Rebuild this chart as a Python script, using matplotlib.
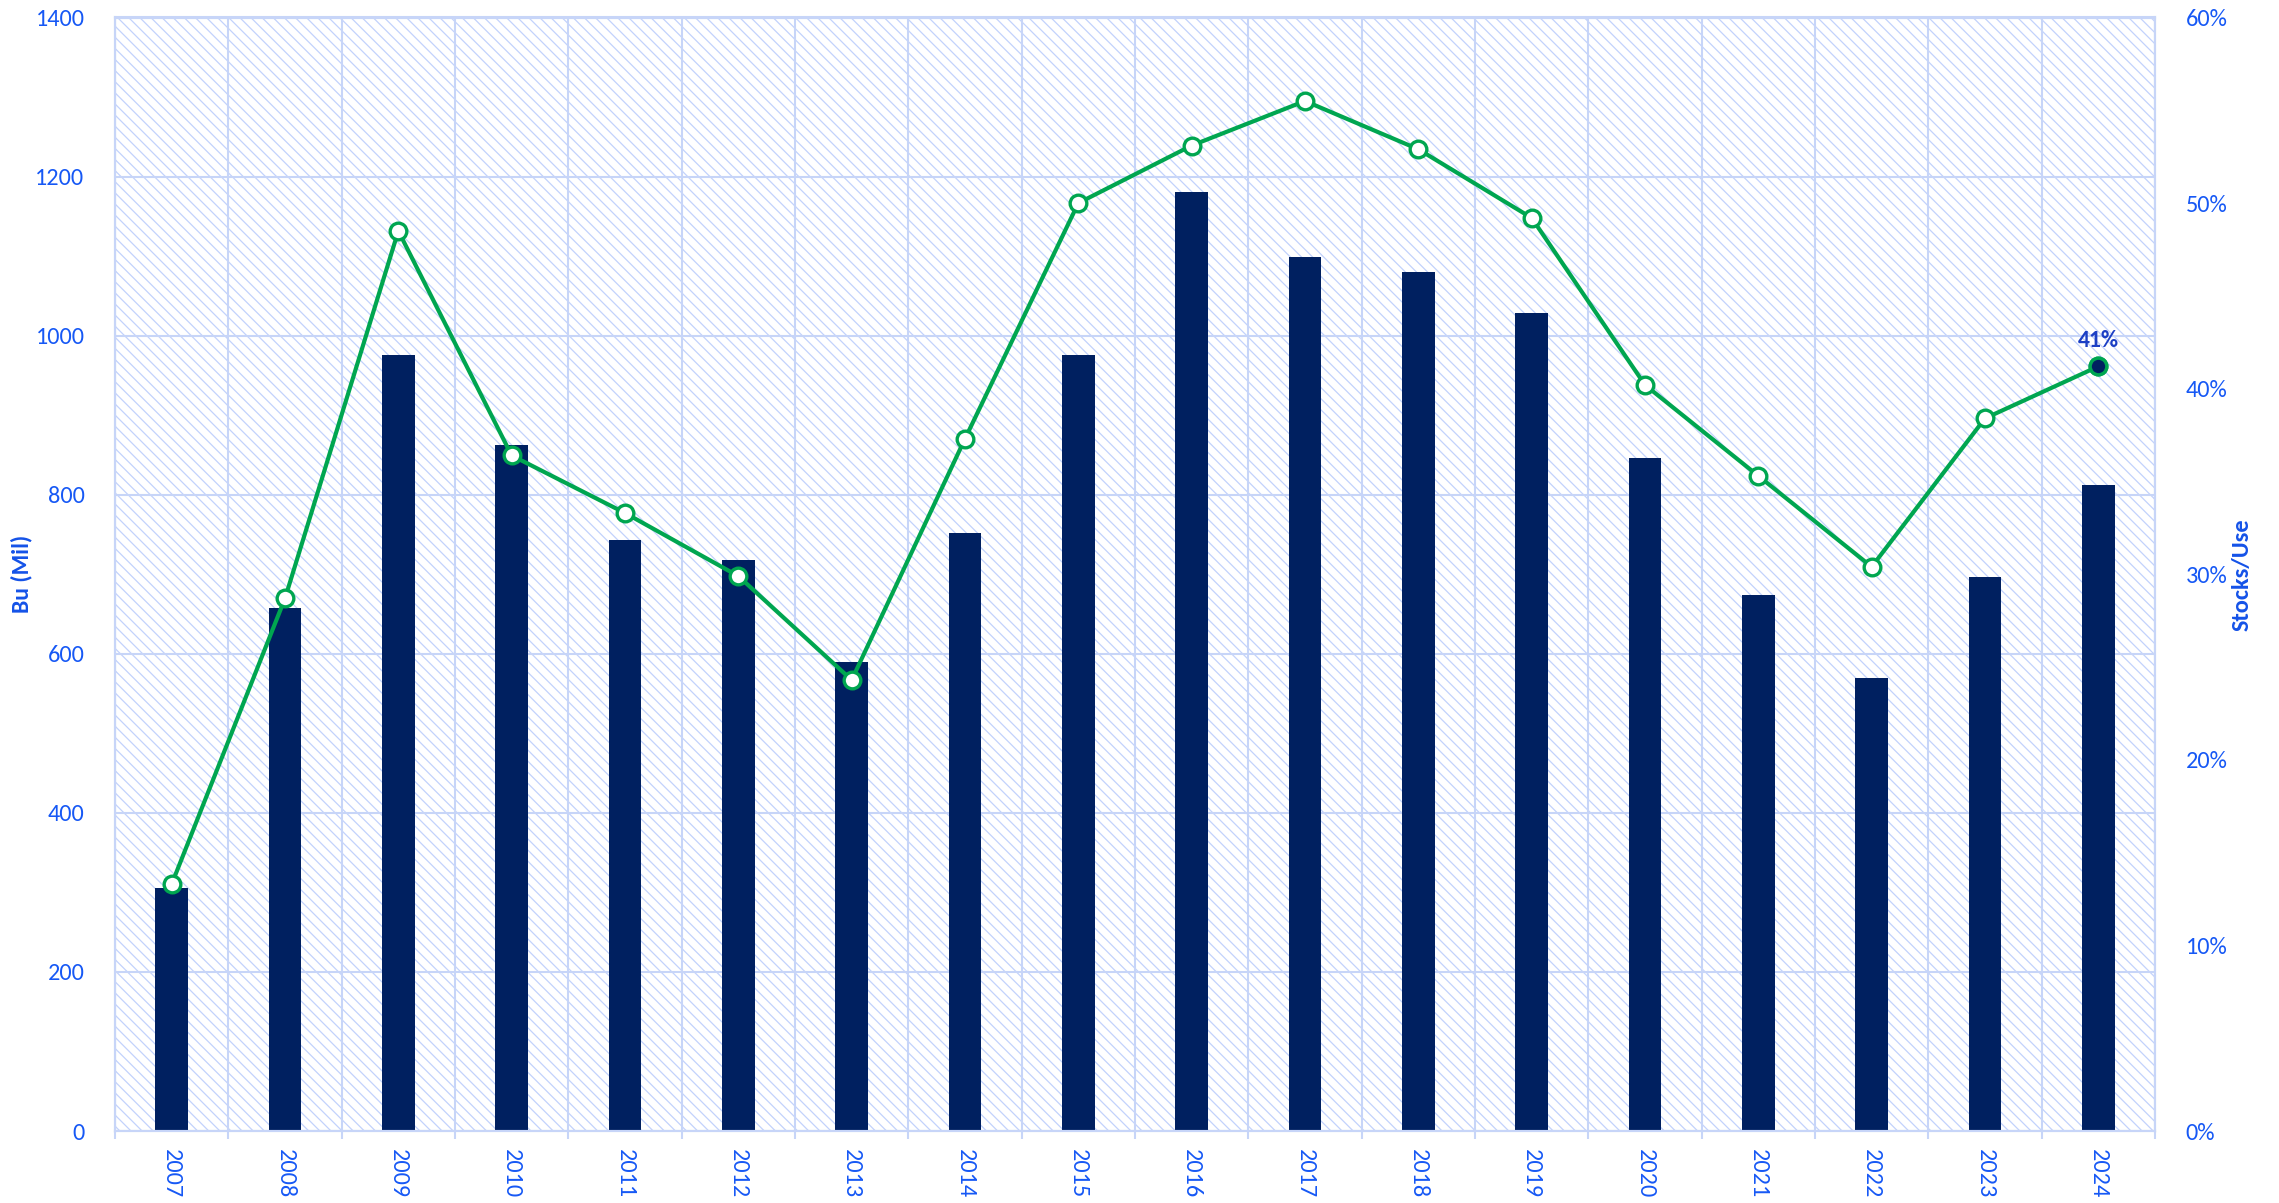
import matplotlib
matplotlib.use("Agg")
import matplotlib.pyplot as plt
from matplotlib.patches import Rectangle
from matplotlib.ticker import FuncFormatter, MultipleLocator, FixedLocator
import numpy as np

plt.rcParams['font.family'] = ['Carlito', 'Lato', 'DejaVu Sans']
plt.rcParams['hatch.linewidth'] = 0.9

years = ["2007", "2008", "2009", "2010", "2011", "2012", "2013", "2014", "2015",
         "2016", "2017", "2018", "2019", "2020", "2021", "2022", "2023", "2024"]
ending_stocks = [306, 657, 976, 863, 743, 718, 590, 752, 976,
                 1181, 1099, 1080, 1028, 846, 674, 570, 697, 812]
stocks_use = [13.3, 28.7, 48.5, 36.4, 33.3, 29.9, 24.3, 37.3, 50.0,
              53.1, 55.5, 52.9, 49.2, 40.2, 35.3, 30.4, 38.4, 41.2]
last_label = "41%"

BLUE_TXT = '#1658f5'
GRID = '#c7d5f8'
HATCH = '#c2d2fc'
NAVY = '#002060'
GREEN = '#00a650'

fig = plt.figure(figsize=(22.79, 12.03), dpi=100)
ax = fig.add_axes([115/2279, 1 - 1131/1203, (2155-115)/2279, (1131-17.5)/1203])

x = np.arange(len(years))

# hatched background
ax.add_patch(Rectangle((0, 0), 1, 1, transform=ax.transAxes, facecolor='white',
                       edgecolor=HATCH, hatch='\\\\\\', lw=0, zorder=0.1))

ax.bar(x, ending_stocks, width=0.29, color=NAVY, zorder=2)
ax.set_xlim(-0.5, len(years) - 0.5)
ax.set_ylim(0, 1400)
ax.yaxis.set_major_locator(MultipleLocator(200))
ax.set_xticks(x)
ax.set_xticklabels(years, rotation=270, color=BLUE_TXT, fontsize=17.5)
ax.xaxis.set_minor_locator(FixedLocator(np.arange(-0.5, len(years), 1.0)))
ax.tick_params(axis='x', which='major', length=0, pad=13)
ax.tick_params(axis='x', which='minor', length=6, width=1.5, color=GRID)
ax.tick_params(axis='y', length=0, pad=22, labelcolor=BLUE_TXT, labelsize=17.5)
ax.set_axisbelow(True)
ax.grid(axis='y', which='major', color=GRID, lw=1.5, zorder=0.5)
ax.grid(axis='x', which='minor', color=GRID, lw=1.5, zorder=0.5)
ax.grid(axis='x', which='major', visible=False)
for s in ax.spines.values():
    s.set_color(GRID)
    s.set_linewidth(1.5)
ax.set_ylabel("Bu (Mil)", color='#1452e8', fontsize=17, fontweight='bold')
ax.yaxis.set_label_coords(-0.0405, 0.5)

ax2 = ax.twinx()
ax2.set_ylim(0, 60)
ax2.yaxis.set_major_locator(MultipleLocator(10))
ax2.yaxis.set_major_formatter(FuncFormatter(lambda v, p: f"{v:.0f}%"))
ax2.tick_params(axis='y', length=0, pad=22, labelcolor=BLUE_TXT, labelsize=17.5)
for s in ax2.spines.values():
    s.set_color(GRID)
    s.set_linewidth(1.5)
ax2.plot(x, stocks_use, color=GREEN, lw=3.0, marker='o', markersize=12,
         markerfacecolor='white', markeredgecolor=GREEN, markeredgewidth=2.4, zorder=3)
ax2.plot(x[-1], stocks_use[-1], marker='o', markersize=12, markerfacecolor=NAVY,
         markeredgecolor=GREEN, markeredgewidth=2.4, linestyle='none', zorder=4)
ax2.annotate(last_label, (x[-1], stocks_use[-1]), xytext=(0, 11), textcoords='offset points',
             ha='center', va='bottom', color='#1c3fc4', fontsize=17, fontweight='bold')
ax2.set_ylabel("Stocks/Use", color='#1452e8', fontsize=17.5, fontweight='bold')
ax2.yaxis.set_label_coords(1.0375, 0.5)

fig.savefig("out.png", dpi=100)
